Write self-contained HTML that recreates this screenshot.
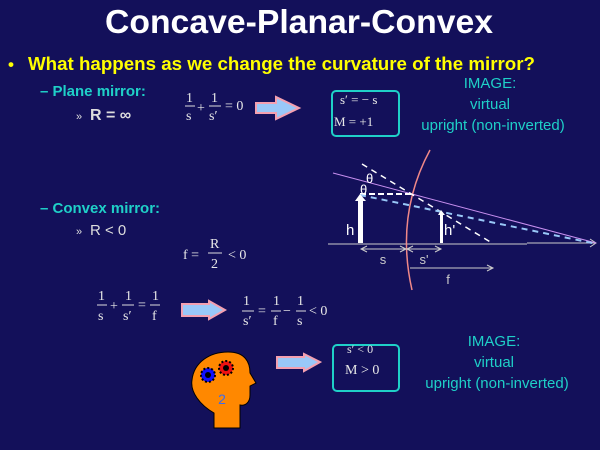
<!DOCTYPE html>
<html><head><meta charset="utf-8"><style>
html,body{margin:0;padding:0;background:#13105a;}
svg{display:block}
.s{font-family:"Liberation Serif",serif;fill:#e8e8e8}
.a{font-family:"Liberation Sans",sans-serif}
</style></head><body>
<svg width="600" height="450" viewBox="0 0 600 450" xmlns="http://www.w3.org/2000/svg">
<rect width="600" height="450" fill="#13105a"/>
<text x="299" y="33" text-anchor="middle" class="a" font-weight="bold" font-size="33" fill="#fff" textLength="388" lengthAdjust="spacingAndGlyphs">Concave-Planar-Convex</text>
<text x="8" y="70" class="a" font-weight="bold" font-size="17" fill="#ffff00">•</text>
<text x="28" y="70" class="a" font-weight="bold" font-size="18" fill="#ffff00" textLength="507" lengthAdjust="spacingAndGlyphs">What happens as we change the curvature of the mirror?</text>
<text x="40" y="96" class="a" font-weight="bold" font-size="15" fill="#1fd0c8">– Plane mirror:</text>
<text x="76" y="120" class="a" font-size="11" fill="#ddd">»</text>
<text x="90" y="120" class="a" font-weight="bold" font-size="16" fill="#ddd">R = ∞</text>
<g class="s" font-size="14">
<text x="186" y="102">1</text><line x1="185" y1="106" x2="195" y2="106" stroke="#ddd"/><text x="186" y="120">s</text>
<text x="197" y="112">+</text>
<text x="211" y="102">1</text><line x1="209" y1="106" x2="221" y2="106" stroke="#ddd"/><text x="209" y="120">s′</text>
<text x="225" y="110">= 0</text>
</g>
<polygon points="256,103 276,103 276,97 299,108 276,119 276,113 256,113" fill="#99c8f8" stroke="#f4a0b0" stroke-width="2"/>
<rect x="332" y="91" width="67" height="45" rx="4" fill="none" stroke="#1fd0c8" stroke-width="2"/>
<text x="340" y="104" class="s" font-size="13">s′ = − s</text>
<text x="334" y="126" class="s" font-size="13">M  =  +1</text>
<g class="a" fill="#1fd0c8" font-size="15" text-anchor="middle">
<text x="490" y="88">IMAGE:</text><text x="490" y="109">virtual</text><text x="493" y="130">upright (non-inverted)</text>
</g>
<text x="40" y="213" class="a" font-weight="bold" font-size="15" fill="#1fd0c8">– Convex mirror:</text>
<text x="76" y="235" class="a" font-size="11" fill="#ddd">»</text>
<text x="90" y="235" class="a" font-size="15" fill="#ddd">R &lt; 0</text>
<g class="s" font-size="14">
<text x="183" y="259">f  =</text>
<text x="210" y="248">R</text><line x1="208" y1="253" x2="222" y2="253" stroke="#ddd"/><text x="211" y="268">2</text>
<text x="228" y="259">&lt; 0</text>
<text x="98" y="300">1</text><line x1="97" y1="305" x2="107" y2="305" stroke="#ddd"/><text x="98" y="320">s</text>
<text x="110" y="310">+</text>
<text x="125" y="300">1</text><line x1="122" y1="305" x2="134" y2="305" stroke="#ddd"/><text x="123" y="320">s′</text>
<text x="138" y="309">=</text>
<text x="152" y="300">1</text><line x1="150" y1="305" x2="160" y2="305" stroke="#ddd"/><text x="152" y="320">f</text>
<text x="243" y="305">1</text><line x1="242" y1="311" x2="254" y2="311" stroke="#ddd"/><text x="243" y="325">s′</text>
<text x="258" y="315">=</text>
<text x="273" y="305">1</text><line x1="271" y1="311" x2="281" y2="311" stroke="#ddd"/><text x="273" y="325">f</text>
<text x="283" y="315">−</text>
<text x="297" y="305">1</text><line x1="296" y1="311" x2="306" y2="311" stroke="#ddd"/><text x="297" y="325">s</text>
<text x="309" y="315">&lt; 0</text>
</g>
<polygon points="182,304 209,304 209,301 225,310 209,319 209,316 182,316" fill="#99c8f8" stroke="#f4a0b0" stroke-width="2"/>
<polygon points="277,357 304,357 304,354 320,362 304,371 304,368 277,368" fill="#99c8f8" stroke="#f4a0b0" stroke-width="2"/>
<rect x="333" y="345" width="66" height="46" rx="4" fill="none" stroke="#1fd0c8" stroke-width="2"/>
<text x="347" y="353" class="s" font-size="12">s′ &lt; 0</text>
<text x="345" y="374" class="s" font-size="14">M  &gt;  0</text>
<g class="a" fill="#1fd0c8" font-size="15" text-anchor="middle">
<text x="494" y="346">IMAGE:</text><text x="494" y="367">virtual</text><text x="497" y="388">upright (non-inverted)</text>
</g>
<path d="M214,428 L214,413 C200,405 190,392 192,380 C194,362 210,352 228,352 C245,352 250,362 250,373 L256,383 L250,386 L250,395 C250,403 245,406 240,405 L240,428 Z" fill="#ff8800" stroke="#000" stroke-width="1"/>
<circle cx="208" cy="375" r="7" fill="#1010ff" stroke="#000" stroke-width="2" stroke-dasharray="2 2"/>
<circle cx="208" cy="375" r="3" fill="#000"/>
<circle cx="226" cy="368" r="7" fill="#ee1111" stroke="#000" stroke-width="2" stroke-dasharray="2 2"/>
<circle cx="226" cy="368" r="3" fill="#000"/>
<text x="222" y="404" class="a" font-size="14" fill="#3a6cf0" text-anchor="middle">2</text>
<line x1="328" y1="244" x2="527" y2="244" stroke="#ccc" stroke-width="1"/>
<line x1="527" y1="243" x2="595" y2="243" stroke="#ccc" stroke-width="1"/>
<polyline points="590,239 596,243 590,247" fill="none" stroke="#ccc"/>
<path d="M430,150 Q395,215 412,290" fill="none" stroke="#f08888" stroke-width="1.5"/>
<line x1="333" y1="173" x2="596" y2="243" stroke="#c890f0" stroke-width="1"/>
<line x1="362" y1="164" x2="492" y2="243" stroke="#fff" stroke-width="1.5" stroke-dasharray="6 5"/>
<line x1="360" y1="194" x2="412" y2="194" stroke="#fff" stroke-width="2" stroke-dasharray="6 3"/>
<line x1="360" y1="195" x2="592" y2="243" stroke="#99c8f8" stroke-width="2" stroke-dasharray="6 5"/>
<rect x="358" y="200" width="5" height="43" fill="#fff"/>
<polygon points="355,201 360,194 366,201" fill="#fff"/>
<rect x="440" y="214" width="3" height="29" fill="#fff"/>
<polygon points="438,215 441,210 445,215" fill="#fff"/>
<text x="366" y="183" class="a" font-size="13" fill="#fff">θ</text>
<text x="360" y="194" class="a" font-size="13" fill="#fff">θ</text>
<text x="346" y="235" class="a" font-size="15" fill="#fff">h</text>
<text x="444" y="235" class="a" font-size="15" fill="#fff">h'</text>
<g stroke="#ccc" fill="none">
<line x1="362" y1="249" x2="405" y2="249"/><polyline points="367,246 361,249 367,252"/><polyline points="400,246 406,249 400,252"/>
<line x1="408" y1="249" x2="440" y2="249"/><polyline points="413,246 407,249 413,252"/><polyline points="435,246 441,249 435,252"/>
<line x1="410" y1="268" x2="492" y2="268"/><polyline points="487,265 493,268 487,271"/>
</g>
<text x="383" y="264" class="a" font-size="13" fill="#ccc" text-anchor="middle">s</text>
<text x="424" y="264" class="a" font-size="13" fill="#ccc" text-anchor="middle">s'</text>
<text x="448" y="284" class="a" font-size="13" fill="#ccc" text-anchor="middle">f</text>
</svg>
</body></html>
